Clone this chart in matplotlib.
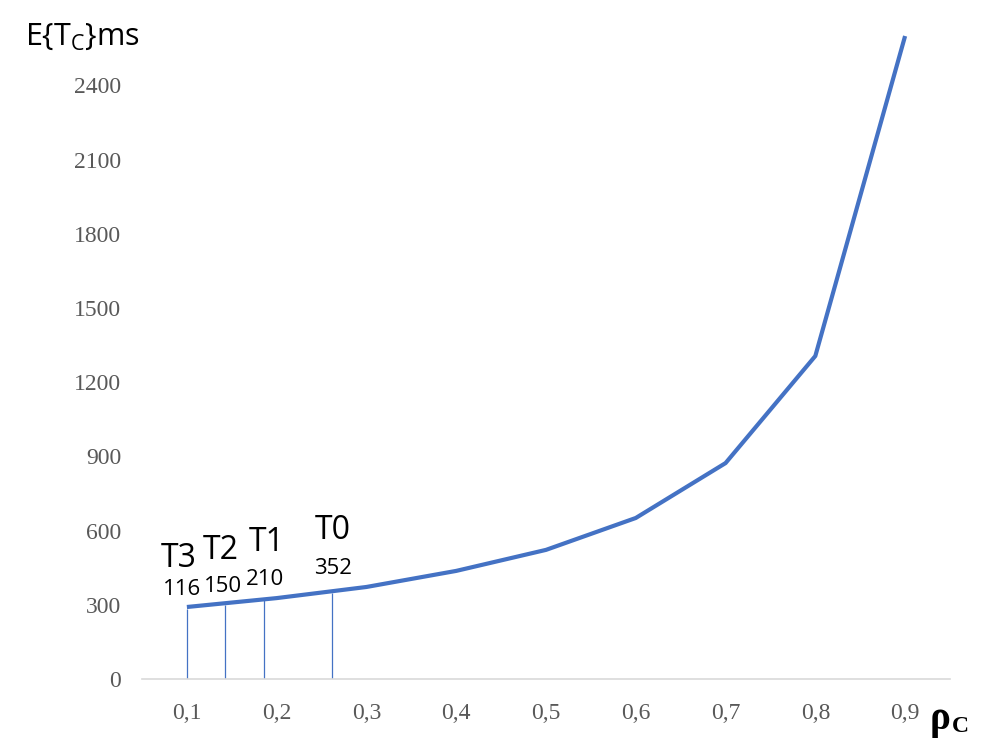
import matplotlib
matplotlib.use("Agg")
import matplotlib.pyplot as plt

rho = [0.1, 0.2, 0.3, 0.4, 0.5, 0.6, 0.7, 0.8, 0.9]
wait_ms = [291, 327, 372, 437, 522, 651, 873, 1306, 2600]
x_labels = ["0,1", "0,2", "0,3", "0,4", "0,5", "0,6", "0,7", "0,8", "0,9"]
y_ticks = [0, 300, 600, 900, 1200, 1500, 1800, 2100, 2400]

# thresholds T3..T0 marked on the curve
thr_names = ["T3", "T2", "T1", "T0"]
thr_values = ["116", "150", "210", "352"]
thr_rho = [0.1, 0.143, 0.186, 0.262]
thr_height = [282, 300, 318, 346]

blue = "#4472C4"

fig = plt.figure(figsize=(9.82, 7.56), dpi=100)
ax = fig.add_axes([0.1446, 0.1019, 0.8228, 0.857])

ax.plot(rho, wait_ms, color=blue, lw=3, solid_capstyle="butt", clip_on=False, zorder=3)
ax.vlines(thr_rho, 0, thr_height, color=blue, lw=0.9, zorder=2)

# label positions (data coords)
name_xy = [(0.091, 489), (0.138, 518), (0.189, 550), (0.2625, 602)]
val_xy = [(0.095, 360), (0.140, 372), (0.187, 404), (0.2625, 445)]
for n, (x, y) in zip(thr_names, name_xy):
    ax.text(x, y, n, ha="center", va="center", fontsize=23, family="Open Sans", color="black")
for v, (x, y) in zip(thr_values, val_xy):
    ax.text(x, y, v, ha="center", va="center", fontsize=16, family="Open Sans", color="black")

ax.set_xlim(0.05, 0.95)
ax.set_ylim(0, 2620)
ax.set_xticks(rho)
ax.set_xticklabels(x_labels)
ax.set_yticks(y_ticks)
ax.set_yticklabels([str(v) for v in y_ticks])
ax.tick_params(length=0, labelsize=17, labelcolor="#595959")
ax.tick_params(axis="y", pad=15)
ax.tick_params(axis="x", pad=17)
for lab in ax.get_xticklabels() + ax.get_yticklabels():
    lab.set_family("Liberation Serif")

for s in ["top", "right", "left"]:
    ax.spines[s].set_visible(False)
ax.spines["bottom"].set_color("#D9D9D9")
ax.spines["bottom"].set_linewidth(1.2)

fig.text(25 / 982, 1 - 37 / 756, r"E{T$_\mathregular{C}$}ms", fontsize=22,
         family="Open Sans", va="center", ha="left")
fig.text(930 / 982, 1 - 719 / 756, "ρ", fontsize=28, family="Liberation Serif",
         fontweight="bold", va="center", ha="left")
fig.text(952 / 982, 1 - 727 / 756, "C", fontsize=17, family="Liberation Serif",
         fontweight="bold", va="center", ha="left")

fig.savefig("out.png", dpi=100, facecolor="white")
